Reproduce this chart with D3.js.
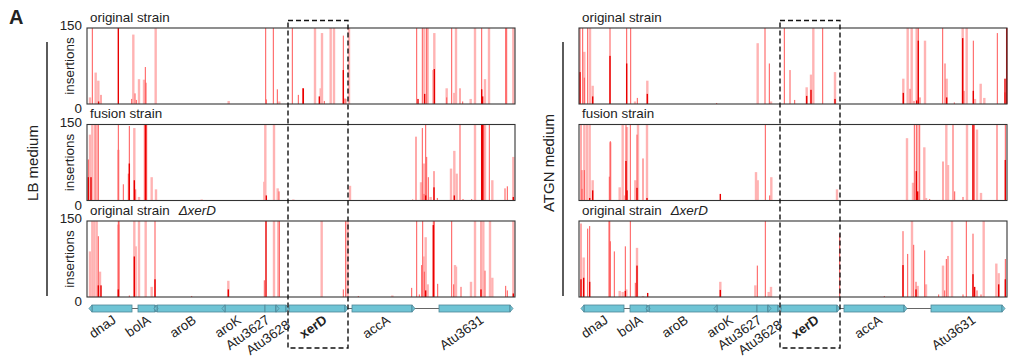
<!DOCTYPE html>
<html>
<head>
<meta charset="utf-8">
<script src="https://cdn.jsdelivr.net/npm/d3@7"></script>
<style>
  body { margin: 0; background: #fff; }
  svg { display: block; }
  text { font-family: Arial, "Liberation Sans", sans-serif; fill: #222; }
</style>
</head>
<body>
<svg id="chart" width="1013" height="360"></svg>
<script>
// genome window in bp, insertion counts capped at 150
var genomeLength = 10700
var yMax = 150

var geneNames  = ["dnaJ", "bolA", "aroB", "aroK", "Atu3627", "Atu3628", "xerD", "accA", "Atu3631"]
var geneStart  = [125, 1275, 1750, 3450, 4450, 4725, 5050, 6625, 8800]
var geneEnd    = [1125, 1700, 3450, 4450, 4725, 4975, 6450, 8125, 10575]
var geneStrand = [-1, 1, -1, -1, 1, 1, 1, 1, 1]

var mediums = ["LB medium", "ATGN medium"]
var strainTitles = ["original strain", "fusion strain", "original strain"]
var strainSuffix = ["", "", "\u0394xerD"]
var tickLabels = ["150", "0"]

// [position bp, insertions, tier]  tier 0 = pale, 1 = red, 2 = dark red
var lbOriginal = [
  [75,13,0],[133,150,1],[217,62,0],[283,46,0],[290,5,2],[350,18,1],[783,150,2],[1117,10,1],
  [1158,137,0],[1200,21,1],[1233,8,1],[1300,49,0],[1425,48,0],[1458,73,1],[1475,42,1],[1717,150,0],
  [3542,6,0],[4467,150,1],[4483,9,1],[4658,150,1],[4758,29,1],[4808,5,0],[5133,150,1],[5283,18,1],
  [5392,31,1],[5408,31,2],[5700,150,0],[5808,15,2],[5842,31,0],[5875,140,0],[5933,6,1],[6092,150,0],
  [6175,150,0],[6408,135,1],[6408,67,2],[6450,11,1],[6467,10,0],[6550,150,0],
  [8242,150,1],[8275,10,2],[8383,150,1],[8433,150,0],[8442,20,2],[8492,150,1],[8517,150,0],
  [8658,67,0],[8683,140,0],[8683,69,2],[8992,31,0],[8992,13,1],[9117,150,1],[9183,22,0],
  [9225,150,0],[9325,31,1],[9392,5,1],[9592,10,0],[9700,150,0],[9867,150,1],[9867,29,2],
  [9892,15,2],[9950,49,0],[10050,150,0],[10467,150,1],[10492,150,1],[10658,150,0]
]

var lbFusion = [
  [33,81,1],[33,46,2],[75,130,0],[100,46,2],[133,150,0],[200,150,1],[242,150,0],[283,150,1],
  [783,100,0],[783,150,1],[908,32,1],[1033,53,1],[1058,147,1],[1058,73,2],[1183,143,0],[1183,40,2],
  [1217,22,1],[1300,7,0],[1433,150,1],[1467,150,2],[1492,150,1],[1617,46,0],[1725,22,0],[2867,2,0],
  [4433,37,0],[4458,150,0],[4483,10,2],[4675,150,0],[4767,24,0],[4800,18,1],[5158,2,0],[6575,29,0],
  [8142,2,1],[8225,126,1],[8350,36,0],[8383,143,1],[8425,73,0],[8425,13,1],[8467,150,1],[8467,10,2],
  [8492,86,1],[8533,46,1],[8592,7,0],[8675,58,1],[8675,26,2],[8758,5,1],[9100,63,0],[9183,98,0],
  [9183,10,2],[9242,53,0],[9325,150,1],[9400,3,1],[9617,3,1],[9700,150,0],[9867,150,1],[9867,150,2],
  [9892,150,2],[9917,150,1],[9950,150,0],[10058,150,1],[10133,40,0],[10450,24,1],[10508,28,1],
  [10658,86,0],[10658,7,2]
]

var lbDelta = [
  [75,90,0],[133,150,0],[183,150,0],[242,150,0],[283,120,1],[283,23,2],[325,50,0],[350,23,2],
  [783,143,0],[783,150,1],[783,15,2],[800,150,1],[1058,3,1],[1183,150,0],[1183,80,2],[1217,100,0],
  [1300,150,0],[1467,150,0],[1617,20,0],[1700,150,1],[1700,35,2],[2617,2,1],[3533,32,0],[3533,15,2],
  [4433,33,1],[4475,150,2],[4675,150,0],[4783,150,0],[4808,150,1],[5867,150,0],[6408,15,1],
  [6467,150,1],[6517,150,0],[6783,2,1],[7633,3,0],[8117,18,1],[8242,150,1],[8308,5,1],[8367,63,1],
  [8392,150,1],[8433,80,0],[8433,50,1],[8467,118,0],[8467,13,2],[8517,25,0],[8658,150,1],[8658,142,2],
  [8683,150,1],[8767,26,1],[9117,150,1],[9167,25,1],[9200,63,0],[9225,60,0],[9350,20,1],[9600,30,0],
  [9700,150,0],[9850,150,1],[9850,15,2],[9908,150,0],[9950,52,1],[10075,150,0],[10133,38,0],
  [10467,22,1],[10508,13,1],[10658,150,0],[10658,7,2]
]

var atgnOriginal = [
  [25,150,1],[25,63,2],[92,150,1],[133,103,0],[133,52,1],[217,150,1],[275,150,0],[342,36,0],
  [342,15,2],[775,150,1],[775,95,2],[1192,150,1],[1192,80,2],[1292,150,1],[1400,5,0],[1458,12,1],
  [1708,46,0],[1708,20,2],[3442,2,1],[4467,120,0],[4650,150,1],[4758,80,1],[4800,5,0],[5133,150,1],
  [5275,67,1],[5392,8,1],[5692,33,0],[5692,16,2],[5800,58,0],[5800,28,2],[5858,150,0],[6092,150,1],
  [6400,63,0],[6400,10,2],[8108,50,0],[8108,22,2],[8217,150,0],[8275,30,1],[8317,150,0],[8375,6,1],
  [8442,150,0],[8442,7,2],[8483,150,1],[8483,125,2],[8525,13,1],[8650,125,0],[9092,150,1],
  [9150,80,1],[9192,50,0],[9192,13,2],[9383,3,1],[9592,150,0],[9592,130,2],[9625,26,1],[9692,150,0],
  [9858,125,1],[9858,26,2],[9900,10,0],[10042,40,0],[10133,12,0],[10458,140,1],[10650,23,1],
  [10650,50,2],[10692,150,2]
]

var atgnFusion = [
  [50,150,1],[75,60,0],[75,23,1],[133,150,0],[133,60,1],[200,150,0],[267,150,0],[267,5,2],
  [342,40,0],[342,20,2],[758,47,1],[783,115,0],[783,117,1],[1017,26,0],[1092,150,0],[1125,10,0],
  [1175,150,1],[1175,78,2],[1200,145,0],[1200,20,2],[1283,150,1],[1408,40,0],[1450,130,1],
  [1450,25,2],[1475,150,0],[1600,83,1],[1700,150,0],[1700,5,2],[3533,13,2],[4425,56,0],[4467,40,0],
  [4658,150,1],[4767,10,1],[4808,46,0],[6450,22,0],[8200,123,0],[8350,35,0],[8383,150,1],
  [8433,150,1],[8433,58,2],[8467,150,0],[8467,18,2],[8517,150,1],[8633,105,0],[8675,5,0],[8767,3,1],
  [9100,77,1],[9183,150,0],[9225,70,0],[9350,150,1],[9392,18,1],[9600,7,1],[9700,150,0],[9850,150,1],
  [9850,150,2],[9883,150,1],[9950,140,0],[10050,15,0],[10450,150,1],[10658,150,1],[10658,80,2]
]

var atgnDelta = [
  [50,145,1],[50,35,2],[117,78,0],[117,38,2],[217,135,1],[267,140,1],[267,30,2],[758,150,0],
  [758,150,1],[783,110,1],[883,90,1],[1017,12,0],[1092,10,0],[1158,100,1],[1158,12,2],[1183,15,0],
  [1283,150,1],[1408,28,1],[1450,97,0],[1450,62,2],[1600,2,0],[1717,8,2],[3533,30,0],[3533,14,2],
  [4408,23,0],[4458,62,1],[4658,150,1],[4742,10,0],[4800,20,0],[6517,125,1],[7633,2,1],[8100,130,1],
  [8100,63,2],[8217,85,1],[8325,150,0],[8367,103,1],[8425,30,1],[8425,15,2],[8467,22,0],[8642,92,1],
  [8675,25,0],[8992,5,1],[9100,62,0],[9142,13,1],[9183,75,1],[9225,81,1],[9325,150,0],[9600,5,1],
  [9683,150,1],[9850,125,1],[9850,45,2],[9892,20,2],[9950,13,1],[10050,5,1],[10117,150,0],
  [10433,66,0],[10492,47,0],[10492,25,2],[10658,75,1],[10658,35,2]
]

var panelData = [[lbOriginal, lbFusion, lbDelta], [atgnOriginal, atgnFusion, atgnDelta]]

// layout
var panelLeft = [87, 579]
var plotWidth = 428
var trackTop = [28, 124.5, 221]
var trackHeight = 76
var geneY = 308.5
var geneH = 7
var tierColor = ["#ffb3b3", "#ff5555", "#e80000"]
var tierWidth = [2.4, 1, 1.4]
var labelNudge = [5, 5, 6, -3, 0, 10, 11, 9, 10]
var labelDrop = [0, 0, 0, 0, 0, 5, 0, 0, 0]

var svg = d3.select("#chart")

svg.append("text")
  .attr("x", 9).attr("y", 24)
  .style("font-size", "20px").style("font-weight", "bold")
  .text("A")

mediums.forEach(function (medium, p) {
  var left = panelLeft[p]
  var x = d3.scaleLinear().domain([0, genomeLength]).range([left, left + plotWidth])
  var g = svg.append("g")

  // medium bracket + label
  var bx = p == 0 ? left - 40 : left - 16
  g.append("line")
    .attr("x1", bx).attr("x2", bx)
    .attr("y1", 42).attr("y2", 296)
    .attr("stroke", "#333").attr("stroke-width", 1.6)
  g.append("text")
    .attr("transform", "translate(" + (bx - 9) + ",163) rotate(-90)")
    .attr("text-anchor", "middle")
    .style("font-size", "15px")
    .text(medium)

  panelData[p].forEach(function (rows, t) {
    var top = trackTop[t]
    var y = d3.scaleLinear().domain([0, yMax]).range([top + trackHeight, top]).clamp(true)

    var title = g.append("text")
      .attr("x", left + 3).attr("y", top - 6.5)
      .style("font-size", "13.4px")
      .text(strainTitles[t])
    if (strainSuffix[t]) {
      title.append("tspan")
        .attr("dx", 9)
        .style("font-style", "italic")
        .text(strainSuffix[t])
    }

    var sorted = rows.slice().sort(function (a, b) { return a[2] - b[2] })
    g.append("g").selectAll("rect")
      .data(sorted)
      .enter().append("rect")
      .attr("x", function (d) { return x(d[0]) - tierWidth[d[2]] / 2 })
      .attr("width", function (d) { return tierWidth[d[2]] })
      .attr("y", function (d) { return y(d[1]) })
      .attr("height", function (d) { return y(0) - y(d[1]) })
      .attr("fill", function (d) { return tierColor[d[2]] })

    g.append("rect")
      .attr("x", left).attr("y", top)
      .attr("width", plotWidth).attr("height", trackHeight)
      .attr("fill", "none").attr("stroke", "#333").attr("stroke-width", 1.1)

    if (p == 0) {
      g.append("text")
        .attr("x", left - 5).attr("y", y(yMax) + 2)
        .attr("text-anchor", "end")
        .style("font-size", "13.4px")
        .text(tickLabels[0])
      g.append("text")
        .attr("x", left - 5).attr("y", y(0) + 9)
        .attr("text-anchor", "end")
        .style("font-size", "13.4px")
        .text(tickLabels[1])
      g.append("text")
        .attr("transform", "translate(" + (left - 13) + "," + (top + trackHeight / 2) + ") rotate(-90)")
        .attr("text-anchor", "middle")
        .style("font-size", "13.4px")
        .text("insertions")
    }
  })

  // gene track
  g.append("line")
    .attr("x1", x(geneStart[0])).attr("x2", x(geneEnd[geneEnd.length - 1]))
    .attr("y1", geneY).attr("y2", geneY)
    .attr("stroke", "#666").attr("stroke-width", 1)

  var genes = geneNames.map(function (n, i) {
    return { name: n, s: geneStart[i], e: geneEnd[i], dir: geneStrand[i], i: i }
  })

  var t0 = geneY - geneH / 2, t1 = geneY + geneH / 2, k = 3

  g.append("g").selectAll("rect")
    .data(genes)
    .enter().append("rect")
    .attr("x", function (d) { return x(d.s) })
    .attr("width", function (d) { return x(d.e) - x(d.s) })
    .attr("y", t0).attr("height", geneH)
    .attr("fill", "#6fc4d5")
    .attr("stroke", "#4f8797")
    .attr("stroke-width", 0.8)

  // arrow tips poking out past the 3' end of each gene
  g.append("g").selectAll("path")
    .data(genes)
    .enter().append("path")
    .attr("d", function (d) {
      var back = d.dir > 0 ? x(d.e) : x(d.s)
      var tip = back + d.dir * k
      return "M" + back + "," + t0 + "L" + tip + "," + geneY + "L" + back + "," + t1 + "Z"
    })
    .attr("fill", "#6fc4d5")
    .attr("stroke", "#4f8797")
    .attr("stroke-width", 0.8)

  g.append("g").selectAll("text")
    .data(genes)
    .enter().append("text")
    .attr("transform", function (d) {
      var cx = (x(d.s) + x(d.e)) / 2 + labelNudge[d.i]
      return "translate(" + cx + "," + (322 + labelDrop[d.i]) + ") rotate(-35)"
    })
    .attr("text-anchor", "end")
    .style("font-size", "13.4px")
    .style("font-weight", function (d) { return d.name == "xerD" ? "bold" : "normal" })
    .text(function (d) { return d.name })

  // dashed box around xerD (including its tip)
  var xi = geneNames.indexOf("xerD")
  var bx0 = x(geneStart[xi]) - 1
  var bx1 = x(geneEnd[xi]) + k
  g.append("rect")
    .attr("x", bx0).attr("y", 20.5)
    .attr("width", bx1 - bx0)
    .attr("height", 327.5)
    .attr("fill", "none")
    .attr("stroke", "#111").attr("stroke-width", 1.4)
    .attr("stroke-dasharray", "5,3")
})
</script>
</body>
</html>
